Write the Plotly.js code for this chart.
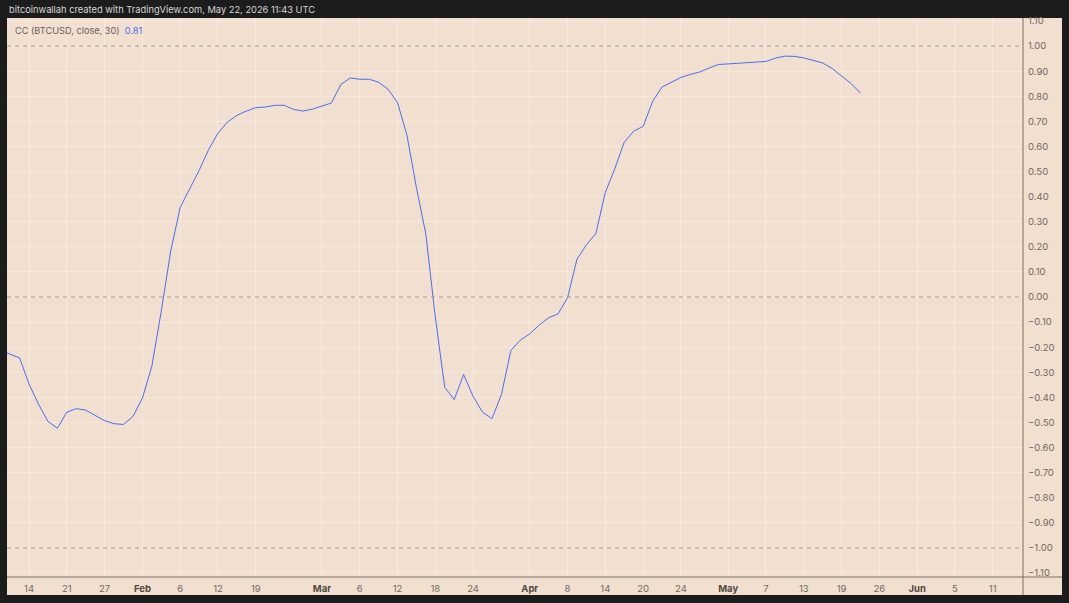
<!doctype html>
<html>
<head>
  <meta charset="utf-8">
  <title>CC (BTCUSD, close, 30)</title>
  <script src="https://cdn.plot.ly/plotly-3.0.1.min.js"></script>
  <style>
    body {
      margin: 0;
      background-color: #1c1c1c;
    }
  </style>
</head>
<body>
  <div id="chart" style="width:1069px;height:603px;"></div>
  <script>
      // trading days (weekends and US holidays are not bars)
      var dates = [
        '2026-01-09', '2026-01-12', '2026-01-13', '2026-01-14', '2026-01-15', '2026-01-16',
        '2026-01-20', '2026-01-21', '2026-01-22', '2026-01-23', '2026-01-26', '2026-01-27',
        '2026-01-28', '2026-01-29', '2026-01-30', '2026-02-02', '2026-02-03', '2026-02-04',
        '2026-02-05', '2026-02-06', '2026-02-09', '2026-02-10', '2026-02-11', '2026-02-12',
        '2026-02-13', '2026-02-17', '2026-02-18', '2026-02-19', '2026-02-20', '2026-02-23',
        '2026-02-24', '2026-02-25', '2026-02-26', '2026-02-27', '2026-03-02', '2026-03-03',
        '2026-03-04', '2026-03-05', '2026-03-06', '2026-03-09', '2026-03-10', '2026-03-11',
        '2026-03-12', '2026-03-13', '2026-03-16', '2026-03-17', '2026-03-18', '2026-03-19',
        '2026-03-20', '2026-03-23', '2026-03-24', '2026-03-25', '2026-03-26', '2026-03-27',
        '2026-03-30', '2026-03-31', '2026-04-01', '2026-04-02', '2026-04-06', '2026-04-07',
        '2026-04-08', '2026-04-09', '2026-04-10', '2026-04-13', '2026-04-14', '2026-04-15',
        '2026-04-16', '2026-04-17', '2026-04-20', '2026-04-21', '2026-04-22', '2026-04-23',
        '2026-04-24', '2026-04-27', '2026-04-28', '2026-04-29', '2026-04-30', '2026-05-01',
        '2026-05-04', '2026-05-05', '2026-05-06', '2026-05-07', '2026-05-08', '2026-05-11',
        '2026-05-12', '2026-05-13', '2026-05-14', '2026-05-15', '2026-05-18', '2026-05-19',
        '2026-05-20', '2026-05-21'
      ];

      // correlation coefficient, 30 bars
      var cc = [
        -0.213, -0.228, -0.243, -0.347, -0.427, -0.496,
        -0.523, -0.459, -0.445, -0.451, -0.473, -0.493,
        -0.505, -0.508, -0.476, -0.403, -0.276, -0.056,
         0.184,  0.357,  0.431,  0.504,  0.587,  0.653,
         0.697,  0.724,  0.741,  0.755,  0.757,  0.764,
         0.764,  0.748,  0.741,  0.749,  0.761,  0.773,
         0.847,  0.873,  0.868,  0.868,  0.856,  0.828,
         0.775,  0.645,  0.437,  0.251, -0.080, -0.360,
        -0.409, -0.309, -0.396, -0.459, -0.485, -0.389,
        -0.213, -0.172, -0.147, -0.112, -0.083, -0.067,
        -0.003,  0.151,  0.208,  0.253,  0.417,  0.511,
         0.617,  0.661,  0.680,  0.779,  0.837,  0.857,
         0.875,  0.887,  0.897,  0.913,  0.927,  0.929,
         0.931,  0.932,  0.935,  0.939,  0.952,  0.960,
         0.959,  0.953,  0.943,  0.933,  0.911,  0.881,
         0.851,  0.813
      ];

      var holidays = ['2026-01-19', '2026-02-16', '2026-04-03', '2026-05-25'];

      var tickDates = [
        '2026-01-14', '2026-01-21', '2026-01-27', '2026-02-02', '2026-02-06', '2026-02-12',
        '2026-02-19', '2026-03-02', '2026-03-06', '2026-03-12', '2026-03-18', '2026-03-24',
        '2026-04-01', '2026-04-08', '2026-04-14', '2026-04-20', '2026-04-24', '2026-05-01',
        '2026-05-07', '2026-05-13', '2026-05-19', '2026-05-26', '2026-06-01', '2026-06-05',
        '2026-06-11'
      ];
      var tickLabels = [
        '14', '21', '27', 'Feb', '6', '12',
        '19', 'Mar', '6', '12', '18', '24',
        'Apr', '8', '14', '20', '24', 'May',
        '7', '13', '19', '26', 'Jun', '5',
        '11'
      ];
      var monthNames = ['Feb', 'Mar', 'Apr', 'May', 'Jun'];

      var bandLevels = [1, 0, -1];

      var panelColor = '#f1dfcf';
      var frameColor = '#1c1c1c';
      var edgeColor = '#7c7168';
      var lineColor = '#4d6cf0';

      // months are drawn bold and darker, like TradingView does
      var tickText = tickLabels.map(function(t) {
        if (monthNames.indexOf(t) >= 0) {
          return '<b><span style="color:#514840">' + t + '</span></b>';
        }
        return t;
      });

      var shapes = [
        // panel background, also behind the axes
        {type: 'rect', xref: 'paper', yref: 'paper', x0: 0, x1: 1.0384, y0: -0.0322, y1: 1,
         fillcolor: panelColor, line: {width: 0}, layer: 'below'},
        // price scale separator
        {type: 'line', xref: 'paper', yref: 'paper', x0: 1, x1: 1, y0: -0.0322, y1: 1,
         line: {color: edgeColor, width: 1}},
        // time scale separator
        {type: 'line', xref: 'paper', yref: 'paper', x0: 0, x1: 1.0384, y0: 0, y1: 0,
         line: {color: edgeColor, width: 1}}
      ];
      bandLevels.forEach(function(v) {
        shapes.push({type: 'line', xref: 'paper', yref: 'y', x0: 0, x1: 1, y0: v, y1: v,
          line: {color: '#a39a92', width: 1, dash: '4px,4px'}});
      });

      var trace = {
        x: dates,
        y: cc,
        type: 'scatter',
        mode: 'lines',
        line: {color: lineColor, width: 1},
        hoverinfo: 'skip'
      };

      var layout = {
        width: 1069,
        height: 603,
        margin: {l: 7, r: 46, t: 18, b: 26},
        paper_bgcolor: frameColor,
        plot_bgcolor: panelColor,
        showlegend: false,
        font: {family: 'Inter, "Noto Sans", sans-serif', size: 10, color: '#736a62'},
        xaxis: {
          type: 'date',
          rangebreaks: [
            {bounds: ['sat', 'mon']},
            {values: holidays}
          ],
          range: ['2026-01-09 16:00', '2026-06-16 05:00'],
          tickmode: 'array',
          tickvals: tickDates,
          ticktext: tickText,
          ticks: '',
          showgrid: true,
          gridcolor: 'rgba(255,255,255,0.28)',
          gridwidth: 1,
          zeroline: false,
          showline: false,
          ticklabelstandoff: 4,
          tickfont: {size: 9.5, color: '#736a62'},
          fixedrange: true
        },
        yaxis: {
          side: 'right',
          range: [-1.116, 1.112],
          tickmode: 'linear',
          tick0: 0,
          dtick: 0.1,
          tickformat: '.2f',
          ticks: '',
          showgrid: true,
          gridcolor: 'rgba(255,255,255,0.28)',
          gridwidth: 1,
          zeroline: false,
          showline: false,
          ticklabelstandoff: 4,
          tickfont: {size: 9.5, color: '#736a62'},
          fixedrange: true
        },
        shapes: shapes,
        annotations: [
          {
            xref: 'paper', yref: 'paper', x: 0, y: 1.0161,
            xanchor: 'left', yanchor: 'middle', showarrow: false,
            text: 'bitcoinwallah created with TradingView.com, May 22, 2026 11:43 UTC',
            font: {size: 9.3, color: '#d6d6d6'}
          },
          {
            xref: 'paper', yref: 'paper', x: 0.0059, y: 0.9785,
            xanchor: 'left', yanchor: 'middle', showarrow: false,
            text: 'CC (BTCUSD, close, 30)&nbsp;&nbsp;<span style="color:' + lineColor + '">' +
                  cc[cc.length - 1].toFixed(2) + '</span>',
            font: {size: 9.2, color: '#6a625b'}
          }
        ]
      };

      Plotly.newPlot('chart', [trace], layout, {displayModeBar: false, staticPlot: true});
  </script>
</body>
</html>
